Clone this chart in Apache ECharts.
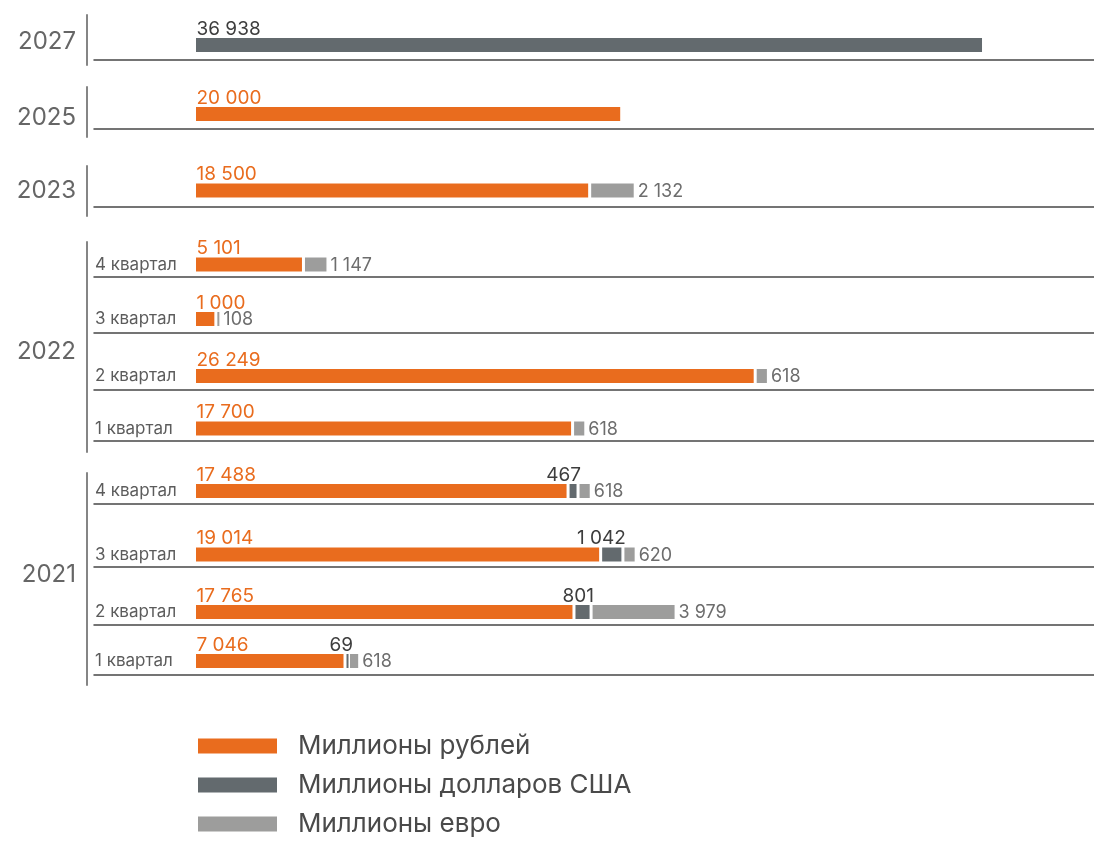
<!DOCTYPE html>
<html>
<head>
<meta charset="utf-8">
<script src="https://cdn.jsdelivr.net/npm/echarts@6/dist/echarts.min.js"></script>
<style>
  html, body { margin: 0; padding: 0; background: #fff; }
  #chart { width: 1094px; height: 842px; }
</style>
</head>
<body>
<div id="chart"></div>
<script>
// data
const rowLabels = ['', '', '', '4 квартал', '3 квартал', '2 квартал', '1 квартал', '4 квартал', '3 квартал', '2 квартал', '1 квартал'];
const rubles = [null, 20000, 18500, 5101, 1000, 26249, 17700, 17488, 19014, 17765, 7046];
const dollars = [36938, null, null, null, null, null, null, 467, 1042, 801, 69];
const euros = [null, null, 2132, 1147, 108, 618, 618, 618, 620, 3979, 618];
const years = ['2027', '2025', '2023', '2022', '2021'];
const seriesNames = ['Миллионы рублей', 'Миллионы долларов США', 'Миллионы евро'];

// layout, px
const rowCenter = [45, 114, 190.5, 264.5, 319, 376, 428.5, 491, 554.5, 612, 661];
const rowLine = [60, 129, 207, 277, 333, 390, 441, 504, 567, 625, 675];
const yearSpan = [[15, 65], [87, 137], [166, 216], [242, 452], [473, 685]];
const yearShift = [2, 6, 0, 5, -4];

const ORANGE = '#e96c1e', DARK = '#636a6e', LIGHT = '#9d9d9c';
const FONT = 'Inter';

function fmt(p) {
  return String(p.value).replace(/\B(?=(\d{3})+(?!\d))/g, ' ');
}

const aboveLeft = (color) => ({
  show: true, formatter: fmt, position: 'insideLeft', distance: 2,
  align: 'left', verticalAlign: 'bottom', offset: [0, -6.5],
  color: color, fontSize: 19, fontFamily: FONT
});

const grid = [], xAxis = [], yAxis = [], series = [];

rowLabels.forEach((lab, i) => {
  const h = rowLine[i] - rowCenter[i];
  grid.push({ left: 94, right: 0, top: rowCenter[i] - h, height: 2 * h });
  xAxis.push({
    gridIndex: i, type: 'value', min: -4705, max: 42110,
    axisLine: { show: true, onZero: false, lineStyle: { color: '#474747', width: 1.5 } },
    axisTick: { show: false }, axisLabel: { show: false }, splitLine: { show: false }
  });
  yAxis.push({
    gridIndex: i, type: 'category', data: [lab],
    axisLine: { show: false, onZero: false }, axisTick: { show: false },
    axisLabel: { inside: true, margin: 1, fontSize: 17, color: '#5c5c5c', fontFamily: FONT }
  });

  const base = {
    type: 'bar', xAxisIndex: i, yAxisIndex: i, stack: 'row' + i,
    barWidth: 17, barMinHeight: 5
  };
  series.push(Object.assign({}, base, {
    name: seriesNames[0], data: [rubles[i]],
    itemStyle: { color: ORANGE, borderColor: '#fff', borderWidth: 1.5 },
    label: aboveLeft(ORANGE)
  }));
  series.push(Object.assign({}, base, {
    name: seriesNames[1], data: [dollars[i]], z: 3,
    itemStyle: { color: DARK, borderColor: '#fff', borderWidth: 1.5 },
    label: rubles[i] == null ? aboveLeft('#3d3d3d') : {
      show: true, formatter: fmt, position: 'right', distance: 3,
      align: 'right', verticalAlign: 'bottom', offset: [0, -6.5],
      color: '#3d3d3d', fontSize: 19, fontFamily: FONT
    }
  }));
  series.push(Object.assign({}, base, {
    name: seriesNames[2], data: [euros[i]],
    itemStyle: { color: LIGHT, borderColor: '#fff', borderWidth: 1.5 },
    label: {
      show: true, formatter: fmt, position: 'right', distance: 2.5,
      verticalAlign: 'middle', offset: [0, 1],
      color: '#6d6d6d', fontSize: 18, fontFamily: FONT
    }
  }));
});

// year captions with vertical rules; small vertical nudge via line height
years.forEach((y, k) => {
  const gi = rowLabels.length + k;
  const d = yearShift[k];
  grid.push({ left: 87, width: 1, top: yearSpan[k][0], height: yearSpan[k][1] - yearSpan[k][0] });
  xAxis.push({ gridIndex: gi, type: 'value', show: false });
  yAxis.push({
    gridIndex: gi, type: 'category', data: [y],
    axisLine: { show: true, onZero: false, lineStyle: { color: '#858585', width: 2 } },
    axisTick: { show: false },
    axisLabel: {
      margin: 11, fontSize: 24, color: '#666', fontFamily: FONT,
      verticalAlign: d > 0 ? 'top' : d < 0 ? 'bottom' : 'middle',
      lineHeight: d === 0 ? 24 : 2 * Math.abs(d)
    }
  });
});

const chart = echarts.init(document.getElementById('chart'));
chart.setOption({
  animation: false,
  grid: grid,
  xAxis: xAxis,
  yAxis: yAxis,
  legend: {
    orient: 'vertical', left: 198, top: 733, padding: 0,
    data: seriesNames, icon: 'rect', itemWidth: 79, itemHeight: 15, itemGap: 13,
    selectedMode: false, itemStyle: { borderWidth: 0 },
    textStyle: { fontSize: 26, color: '#4a4a4a', fontFamily: FONT, padding: [0, 0, 0, 16] }
  },
  series: series
});
</script>
</body>
</html>
